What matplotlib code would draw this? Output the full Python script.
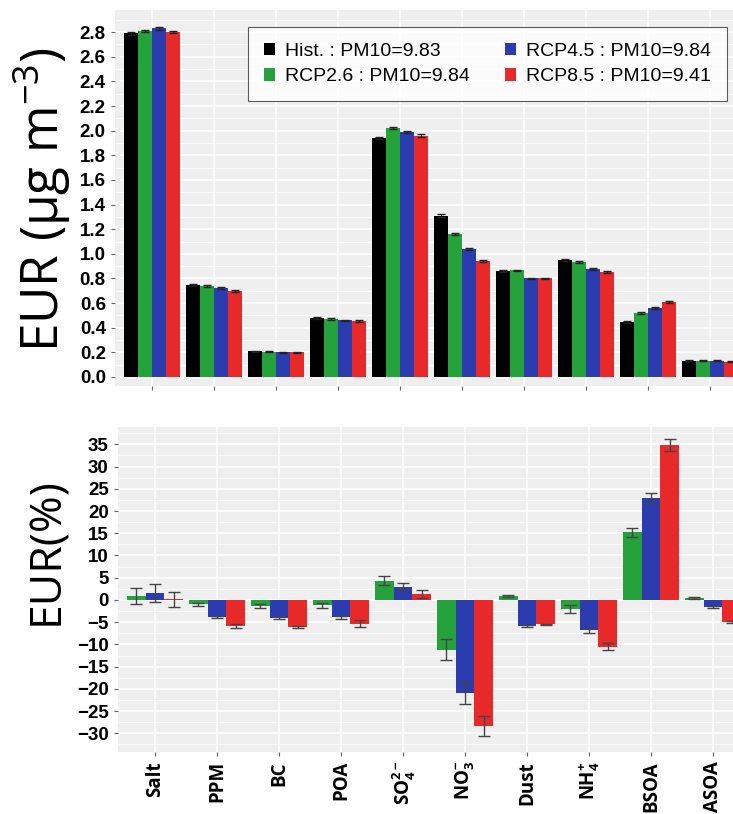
import numpy as np
import matplotlib
matplotlib.use("Agg")
import matplotlib.pyplot as plt
from matplotlib.patches import Patch

species = ["Salt", "PPM", "BC", "POA", r"SO$_4^{2-}$", r"NO$_3^{-}$", "Dust", r"NH$_4^{+}$", "BSOA", "ASOA"]

# mean concentration over Europe (ug m-3)
hist = [2.79, 0.75, 0.21, 0.48, 1.94, 1.31, 0.86, 0.95, 0.45, 0.13]
rcp26 = [2.81, 0.74, 0.205, 0.47, 2.02, 1.16, 0.865, 0.93, 0.52, 0.13]
rcp45 = [2.83, 0.72, 0.20, 0.46, 1.99, 1.04, 0.80, 0.88, 0.56, 0.13]
rcp85 = [2.80, 0.70, 0.20, 0.455, 1.96, 0.94, 0.80, 0.85, 0.61, 0.125]
conc_err = [0.01, 0.008, 0.005, 0.006, 0.01, 0.01, 0.006, 0.008, 0.008, 0.004]

# relative change vs historical (%)
d26 = [0.8, -1.0, -1.3, -1.2, 4.3, -11.2, 0.9, -2.0, 15.2, 0.5]
d45 = [1.5, -3.8, -4.0, -3.9, 2.9, -21.0, -5.8, -6.7, 22.9, -1.5]
d85 = [0.2, -5.9, -6.1, -5.3, 1.3, -28.3, -5.5, -10.5, 34.9, -4.9]
e26 = [1.8, 0.4, 0.4, 0.6, 1.0, 2.4, 0.3, 0.9, 1.0, 0.2]
e45 = [2.0, 0.3, 0.3, 0.4, 0.8, 2.5, 0.2, 0.7, 1.1, 0.2]
e85 = [1.7, 0.5, 0.2, 0.8, 0.9, 2.2, 0.2, 0.8, 1.3, 0.2]

labels = ["Hist. : PM10=9.83", "RCP2.6 : PM10=9.84", "RCP4.5 : PM10=9.84", "RCP8.5 : PM10=9.41"]
colors = ["#000000", "#25a23c", "#2b3cae", "#e8292a"]

plt.rcParams['font.family'] = ['Liberation Sans', 'DejaVu Sans']
plt.rcParams['mathtext.fontset'] = 'custom'
plt.rcParams['mathtext.rm'] = 'Open Sans:bold'
plt.rcParams['mathtext.it'] = 'Open Sans:bold'
plt.rcParams['mathtext.bf'] = 'Open Sans:bold'

W, H = 733, 814
fig = plt.figure(figsize=(W / 100, H / 100), dpi=100)

x = np.arange(len(species))
step = 62.0
ax1 = fig.add_axes([(152 - 0.6 * step) / W, 1 - 385.6 / H, 10.2 * step / W, 375.6 / H])
ax2 = fig.add_axes([(155 - 0.6 * step) / W, 1 - 752 / H, 10.2 * step / W, 325 / H])


def style_axis(ax):
    ax.set_facecolor("#efefef")
    for s in ax.spines.values():
        s.set_visible(False)
    ax.set_axisbelow(True)
    ax.grid(True, which="major", color="white", lw=1.1)
    ax.grid(True, which="minor", axis="y", color="white", lw=0.5)
    ax.tick_params(axis="both", which="major", length=3, color="#666666", width=0.8)
    ax.tick_params(axis="y", which="minor", length=0)
    ax.set_xlim(-0.6, 9.6)
    ax.set_xticks(x)
    for t in ax.get_yticklabels():
        t.set_fontweight("bold")
        t.set_fontsize(13.5)


# top: concentrations
bw = 0.225
for i, (vals, c) in enumerate(zip([hist, rcp26, rcp45, rcp85], colors)):
    ax1.bar(x + (i - 1.5) * bw, vals, bw, color=c, label=labels[i], zorder=2)
    ax1.errorbar(x + (i - 1.5) * bw, vals, yerr=conc_err, fmt="none",
                 ecolor="#222222", elinewidth=0.8, capsize=3, zorder=3)
ax1.set_ylim(-0.07, 2.98)
ax1.set_yticks(np.arange(0, 2.81, 0.2))
ax1.set_yticks(np.arange(0.1, 2.91, 0.2), minor=True)
ax1.set_yticklabels([f"{v:.1f}" for v in np.arange(0, 2.81, 0.2)])
style_axis(ax1)
ax1.set_xticklabels([])

# bottom: relative changes
bw2 = 0.3
for i, (vals, err, c) in enumerate(zip([d26, d45, d85], [e26, e45, e85], colors[1:])):
    ax2.bar(x + (i - 1) * bw2, vals, bw2, color=c, zorder=2)
    ax2.errorbar(x + (i - 1) * bw2, vals, yerr=err, fmt="none",
                 ecolor="#444444", elinewidth=1.0, capsize=4, zorder=3)
ax2.set_ylim(-34.2, 38.9)
ax2.set_yticks(np.arange(-30, 36, 5))
ax2.set_yticks(np.arange(-32.5, 38, 5), minor=True)
style_axis(ax2)
ax2.set_xticklabels(species, rotation=90, fontsize=13.5, fontweight="bold",
                    family=["Open Sans", "DejaVu Sans"])

handles = [Patch(facecolor=c, edgecolor="none") for c in colors]
leg = fig.legend(handles, labels,
                 loc="upper left", bbox_to_anchor=(248 / W, 1 - 27 / H), ncol=2,
                 borderaxespad=0, fontsize=14, frameon=True, fancybox=False,
                 edgecolor="#333333", handlelength=0.6, handleheight=0.6,
                 handletextpad=0.5, columnspacing=1.8, labelspacing=0.45,
                 borderpad=0.8)
leg.get_frame().set_linewidth(0.8)

fig.text(42 / W, 1 - 200 / H, r"EUR ($\mathregular{\mu}$g m$^{\mathregular{-3}}$)", rotation=90,
         ha="center", va="center", fontsize=37, family=["Open Sans", "DejaVu Sans"])
fig.text(47 / W, 1 - 551 / H, "EUR(%)", rotation=90, ha="center", va="center",
         fontsize=32, family=["Open Sans", "DejaVu Sans"])

fig.savefig("out.png", dpi=100)
